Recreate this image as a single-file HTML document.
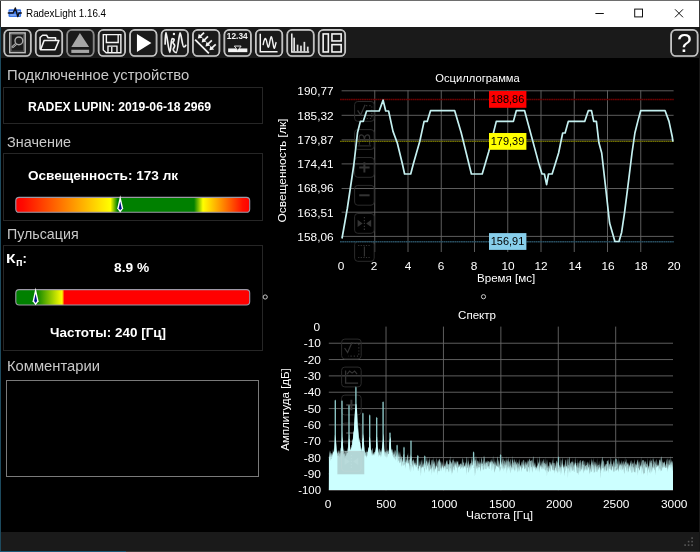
<!DOCTYPE html>
<html><head><meta charset="utf-8"><title>RadexLight 1.16.4</title>
<style>
html,body{margin:0;padding:0;background:#000;}
body{width:700px;height:552px;overflow:hidden;position:relative;font-family:"Liberation Sans", sans-serif;}
#win{position:absolute;left:0;top:0;width:700px;height:552px;background:#000;overflow:hidden;}
.abs{position:absolute;}
.t{position:absolute;white-space:nowrap;line-height:1;display:block;}
#txt{position:absolute;left:0;top:0;width:700px;height:552px;will-change:transform;}
.box{position:absolute;border:1px solid #262626;box-sizing:border-box;}
svg{position:absolute;left:0;top:0;}
</style></head>
<body>
<div id="win">
<div class="abs" style="left:0;top:0;width:700px;height:27.3px;background:#fff"></div>
<div class="abs" style="left:0;top:0;width:700px;height:1px;background:#6e6e6e"></div>
<div class="abs" style="left:0;top:27.3px;width:700px;height:31px;background:#1a1a1a"></div>
<div class="abs" style="left:1px;top:531.6px;width:699px;height:19.2px;background:#1a1a1a"></div>
<div class="abs" style="left:0;top:1px;width:1.3px;height:551px;background:#1d4a5e"></div>
<div class="abs" style="left:0;top:1px;width:1px;height:26.3px;background:#2c2c2c"></div>
<div class="abs" style="left:0;top:550.8px;width:126px;height:1.2px;background:#1c5a78"></div>
<div class="abs" style="left:126px;top:550.8px;width:574px;height:1.2px;background:#3c3c3c"></div>
<div class="abs" style="left:699px;top:27px;width:1px;height:524px;background:#161616"></div>
<div class="abs" style="left:699px;top:0;width:1px;height:27.3px;background:#3a3a3a"></div>
<div class="box" style="left:3px;top:86.6px;width:260px;height:37.8px"></div>
<div class="box" style="left:3px;top:153px;width:260px;height:67.8px"></div>
<div class="box" style="left:3px;top:245.4px;width:260px;height:105.8px"></div>
<div class="abs" style="left:6.2px;top:379.8px;width:253px;height:97.2px;border:1px solid #7a7a7a;box-sizing:border-box"></div>
<svg width="700" height="552" viewBox="0 0 700 552">
<rect x='8.5' y='9.3' width='12.6' height='7.6' rx='1.2' fill='#3a76e8'/>
<path d='M9.6,11.4 H13 M17.6,11.4 H20 M10.2,15 H16.6 M19,15 H20' stroke='#cfe0ff' stroke-width='0.8' fill='none'/>
<polyline points='7.8,13 13.2,13 15.3,7.9 17.8,16.6 19,13 21.8,13' fill='none' stroke='#101018' stroke-width='1.4' stroke-linejoin='round'/>
<line x1='595.4' x2='603.8' y1='13.5' y2='13.5' stroke='#111' stroke-width='1'/>
<rect x='634.7' y='9.1' width='7.8' height='7.8' fill='none' stroke='#111' stroke-width='1'/>
<path d='M675,9.3 L683,17.3 M683,9.3 L675,17.3' stroke='#111' stroke-width='1' fill='none'/>
<rect x='4.30' y='29.900000000000002' width='26.5' height='26.1' rx='4.8' fill='#1a1a1a' stroke='#e4e4e4' stroke-width='1.7'/><rect x='4.35' y='29.95' width='26.4' height='26.0' rx='4.7' fill='none' stroke='#8a8a8a' stroke-width='0.5'/>
<rect x='9.75' y='32.95' width='15.4' height='19.7' fill='none' stroke='#bcbcbc' stroke-width='1.5'/>
<rect x='11.35' y='34.55' width='12.2' height='16.5' fill='none' stroke='#606060' stroke-width='0.7'/>
<line x1='16.35' y1='43.65' x2='12.75' y2='46.95' stroke='#b0b0b0' stroke-width='2.5' stroke-linecap='round'/>
<line x1='16.35' y1='43.65' x2='12.75' y2='46.95' stroke='#3a3a3a' stroke-width='0.8' stroke-linecap='round'/>
<circle cx='18.90' cy='40.85' r='3.9' fill='#1e1e1e' stroke='#a8a8a8' stroke-width='1.4'/>
<rect x='35.74' y='29.900000000000002' width='26.5' height='26.1' rx='4.8' fill='#1a1a1a' stroke='#e4e4e4' stroke-width='1.7'/><rect x='35.79' y='29.95' width='26.4' height='26.0' rx='4.7' fill='none' stroke='#8a8a8a' stroke-width='0.5'/>
<path d='M40.09,49.45 L40.09,37.45 L42.59,35.25 L46.59,35.25 L48.09,37.75 L55.59,37.75 L55.59,40.05' fill='none' stroke='#f4f4f4' stroke-width='1.5' stroke-linejoin='round'/>
<path d='M40.59,49.75 L44.09,40.45 L58.89,40.45 L55.09,49.75 Z' fill='none' stroke='#f4f4f4' stroke-width='1.6' stroke-linejoin='round'/>
<rect x='67.18' y='29.900000000000002' width='26.5' height='26.1' rx='4.8' fill='#1a1a1a' stroke='#a2a2a2' stroke-width='1.7'/><rect x='67.23' y='29.95' width='26.4' height='26.0' rx='4.7' fill='none' stroke='#606060' stroke-width='0.5'/>
<path d='M79.93,32.95 L89.13,46.95 L71.33,46.95 Z' fill='#a6a6a6'/>
<rect x='71.33' y='49.75' width='17.8' height='3.2' fill='#a6a6a6'/>
<rect x='98.62' y='29.900000000000002' width='26.5' height='26.1' rx='4.8' fill='#1a1a1a' stroke='#e4e4e4' stroke-width='1.7'/><rect x='98.67' y='29.95' width='26.4' height='26.0' rx='4.7' fill='none' stroke='#8a8a8a' stroke-width='0.5'/>
<path d='M103.27,34.65 H120.87 V52.75 H106.17 L103.27,49.95 Z' fill='none' stroke='#f4f4f4' stroke-width='1.4'/>
<path d='M106.37,34.65 V42.45 H118.17 V34.65' fill='none' stroke='#f4f4f4' stroke-width='1.4'/>
<path d='M107.97,52.75 V46.15 H116.97 V52.75 M111.77,47.05 V52.05' fill='none' stroke='#f4f4f4' stroke-width='1.4'/>
<rect x='130.06' y='29.900000000000002' width='26.5' height='26.1' rx='4.8' fill='#1a1a1a' stroke='#e4e4e4' stroke-width='1.7'/><rect x='130.11' y='29.95' width='26.4' height='26.0' rx='4.7' fill='none' stroke='#8a8a8a' stroke-width='0.5'/>
<path d='M136.91,33.95 L151.41,42.95 L136.91,52.05 Z' fill='#ffffff'/>
<rect x='161.50' y='29.900000000000002' width='26.5' height='26.1' rx='4.8' fill='#1a1a1a' stroke='#e4e4e4' stroke-width='1.7'/><rect x='161.55' y='29.95' width='26.4' height='26.0' rx='4.7' fill='none' stroke='#8a8a8a' stroke-width='0.5'/>
<path d='M165.15 43.95 C165.25 38.05 165.45 32.55 165.95 32.55 C166.85 32.55 168.65 52.45 169.75 52.45 C170.65 52.45 171.25 38.55 171.95 38.55 C172.65 38.55 174.15 38.65 174.15 39.85 C174.15 41.25 172.95 41.45 172.95 42.45 C172.95 43.65 174.65 44.05 174.65 45.65 C174.65 47.65 173.05 48.25 173.25 49.65 C173.55 51.25 175.15 52.65 176.25 52.65 C177.65 52.65 179.05 32.85 180.05 32.85 C181.25 32.85 182.25 46.95 183.85 46.95 C184.85 46.95 185.45 46.05 185.75 45.35' fill='none' stroke='#f2f2f2' stroke-width='1.7' stroke-linecap='round' stroke-linejoin='round'/>
<circle cx='173.95' cy='33.95' r='1.2' fill='#f2f2f2'/>
<rect x='192.94' y='29.900000000000002' width='26.5' height='26.1' rx='4.8' fill='#1a1a1a' stroke='#e4e4e4' stroke-width='1.7'/><rect x='192.99' y='29.95' width='26.4' height='26.0' rx='4.7' fill='none' stroke='#8a8a8a' stroke-width='0.5'/>
<line x1='195.09' y1='39.65' x2='208.89' y2='53.45' stroke='#f4f4f4' stroke-width='1.8'/>
<line x1='204.09' y1='32.55' x2='200.09' y2='36.35' stroke='#f4f4f4' stroke-width='1.7'/>
<path d='M197.79,38.55 L198.79,33.85 L202.59,37.65 Z' fill='#f4f4f4'/>
<line x1='207.96' y1='36.48' x2='203.96' y2='40.28' stroke='#f4f4f4' stroke-width='1.7'/>
<path d='M201.66,42.48 L202.66,37.78 L206.46,41.58 Z' fill='#f4f4f4'/>
<line x1='211.83' y1='40.41' x2='207.83' y2='44.21' stroke='#f4f4f4' stroke-width='1.7'/>
<path d='M205.53,46.41 L206.53,41.71 L210.33,45.51 Z' fill='#f4f4f4'/>
<line x1='215.70' y1='44.34' x2='211.70' y2='48.14' stroke='#f4f4f4' stroke-width='1.7'/>
<path d='M209.40,50.34 L210.40,45.64 L214.20,49.44 Z' fill='#f4f4f4'/>
<rect x='224.38' y='29.900000000000002' width='26.5' height='26.1' rx='4.8' fill='#1a1a1a' stroke='#e4e4e4' stroke-width='1.7'/><rect x='224.43' y='29.95' width='26.4' height='26.0' rx='4.7' fill='none' stroke='#8a8a8a' stroke-width='0.5'/>
<rect x='228.13' y='48.45' width='19.2' height='3.7' fill='#f4f4f4'/>
<path d='M234.33,46.05 H241.13 L237.73,50.45 Z' fill='#1a1a1a' stroke='#f4f4f4' stroke-width='0.9'/>
<rect x='255.82' y='29.900000000000002' width='26.5' height='26.1' rx='4.8' fill='#1a1a1a' stroke='#e4e4e4' stroke-width='1.7'/><rect x='255.87' y='29.95' width='26.4' height='26.0' rx='4.7' fill='none' stroke='#8a8a8a' stroke-width='0.5'/>
<path d='M260.27,33.65 V51.85 H277.57' fill='none' stroke='#f4f4f4' stroke-width='1.5'/>
<path d='M263.17,44.65 C264.17,39.05 265.37,36.05 266.57,41.05 S268.17,51.05 269.57,43.05 S271.37,35.05 272.57,41.05 S273.97,51.05 275.17,46.05 S275.77,43.05 276.17,42.65' fill='none' stroke='#f4f4f4' stroke-width='1.4' stroke-linecap='round'/>
<rect x='287.26' y='29.900000000000002' width='26.5' height='26.1' rx='4.8' fill='#1a1a1a' stroke='#e4e4e4' stroke-width='1.7'/><rect x='287.31' y='29.95' width='26.4' height='26.0' rx='4.7' fill='none' stroke='#8a8a8a' stroke-width='0.5'/>
<path d='M291.81,33.45 V52.05 H309.21' fill='none' stroke='#f4f4f4' stroke-width='1.5'/>
<rect x='293.31' y='37.65' width='1.7' height='13.80' fill='#e0e0e0'/>
<rect x='296.71' y='44.65' width='1.7' height='6.80' fill='#e0e0e0'/>
<rect x='300.11' y='45.65' width='1.7' height='5.80' fill='#e0e0e0'/>
<rect x='303.51' y='41.85' width='1.7' height='9.60' fill='#e0e0e0'/>
<rect x='306.91' y='46.65' width='1.7' height='4.80' fill='#e0e0e0'/>
<rect x='318.70' y='29.900000000000002' width='26.5' height='26.1' rx='4.8' fill='#1a1a1a' stroke='#e4e4e4' stroke-width='1.7'/><rect x='318.75' y='29.95' width='26.4' height='26.0' rx='4.7' fill='none' stroke='#8a8a8a' stroke-width='0.5'/>
<rect x='323.15' y='33.95' width='5.2' height='18' fill='none' stroke='#f4f4f4' stroke-width='1.6'/>
<rect x='331.95' y='33.95' width='9.2' height='7' fill='none' stroke='#f4f4f4' stroke-width='1.6'/>
<rect x='331.95' y='44.65' width='9.2' height='7.3' fill='none' stroke='#f4f4f4' stroke-width='1.6'/>
<rect x='671.15' y='29.900000000000002' width='26.5' height='26.1' rx='4.8' fill='#1a1a1a' stroke='#e4e4e4' stroke-width='1.7'/><rect x='671.20' y='29.95' width='26.4' height='26.0' rx='4.7' fill='none' stroke='#8a8a8a' stroke-width='0.5'/>
<defs>
<linearGradient id='g1' x1='0' x2='1' y1='0' y2='0'>
<stop offset='0' stop-color='#ff0000'/><stop offset='0.03' stop-color='#ff0a00'/><stop offset='0.405' stop-color='#ffff00'/><stop offset='0.435' stop-color='#008000'/>
<stop offset='0.762' stop-color='#008000'/><stop offset='0.80' stop-color='#ffff00'/><stop offset='0.97' stop-color='#ff1000'/><stop offset='1' stop-color='#ff0000'/>
</linearGradient>
<linearGradient id='g2' x1='0' x2='1' y1='0' y2='0'>
<stop offset='0' stop-color='#008000'/><stop offset='0.085' stop-color='#008000'/><stop offset='0.198' stop-color='#ffff00'/><stop offset='0.208' stop-color='#ff0000'/><stop offset='1' stop-color='#ff0000'/>
</linearGradient></defs>
<rect x='15.8' y='197.4' width='233.9' height='14.9' rx='3.4' fill='url(#g1)' stroke='#9c98a6' stroke-width='1.1'/>
<rect x='15.8' y='289.6' width='233.9' height='15.4' rx='3.4' fill='url(#g2)' stroke='#9c98a6' stroke-width='1.1'/>
<path d='M120.2,195.2 L123.2,208.4 L120.2,212.4 L117.2,208.4 Z' fill='#ffffff'/><path d='M120.2,201.5 L121.7,208.20000000000002 L120.2,210.3 L118.7,208.20000000000002 Z' fill='#00108c'/>
<path d='M35.6,287.4 L38.6,301.2 L35.6,305.2 L32.6,301.2 Z' fill='#ffffff'/><path d='M35.6,293.7 L37.1,301.0 L35.6,303.09999999999997 L34.1,301.0 Z' fill='#00108c'/>
<circle cx='265.2' cy='297' r='2.1' fill='none' stroke='#c8c8c8' stroke-width='1'/>
<circle cx='483.5' cy='296.7' r='2.1' fill='none' stroke='#c8c8c8' stroke-width='1'/>
<g id="osc">
<line x1='341.6' x2='673.6' y1='90.80' y2='90.80' stroke='#686868' stroke-width='0.9'/>
<line x1='341.6' x2='673.6' y1='115.30' y2='115.30' stroke='#686868' stroke-width='0.9'/>
<line x1='341.6' x2='673.6' y1='139.90' y2='139.90' stroke='#686868' stroke-width='0.9'/>
<line x1='341.6' x2='673.6' y1='163.90' y2='163.90' stroke='#686868' stroke-width='0.9'/>
<line x1='341.6' x2='673.6' y1='188.50' y2='188.50' stroke='#686868' stroke-width='0.9'/>
<line x1='341.6' x2='673.6' y1='212.20' y2='212.20' stroke='#686868' stroke-width='0.9'/>
<line x1='341.6' x2='673.6' y1='236.40' y2='236.40' stroke='#686868' stroke-width='0.9'/>
<line x1='374.75' x2='374.75' y1='90.3' y2='252' stroke='#686868' stroke-width='0.9'/>
<line x1='408.00' x2='408.00' y1='90.3' y2='252' stroke='#686868' stroke-width='0.9'/>
<line x1='441.25' x2='441.25' y1='90.3' y2='252' stroke='#686868' stroke-width='0.9'/>
<line x1='474.50' x2='474.50' y1='90.3' y2='252' stroke='#686868' stroke-width='0.9'/>
<line x1='507.75' x2='507.75' y1='90.3' y2='252' stroke='#686868' stroke-width='0.9'/>
<line x1='541.00' x2='541.00' y1='90.3' y2='252' stroke='#686868' stroke-width='0.9'/>
<line x1='574.25' x2='574.25' y1='90.3' y2='252' stroke='#686868' stroke-width='0.9'/>
<line x1='607.50' x2='607.50' y1='90.3' y2='252' stroke='#686868' stroke-width='0.9'/>
<line x1='640.75' x2='640.75' y1='90.3' y2='252' stroke='#686868' stroke-width='0.9'/>
<rect x='354.6' y='101.5' width='19.6' height='19.8' rx='3.2' fill='none' stroke='#2a2a2a' stroke-width='1'/><polyline points='357.6,110.4 360.6,114.9 365.1,104.7' fill='none' stroke='#343434' stroke-width='1.2'/><path d='M366.1,105.7 H371.8 V118.5 H361.1' fill='none' stroke='#343434' stroke-width='1.2' stroke-dasharray='1.2 2'/>
<rect x='354.6' y='129.6' width='19.6' height='19.8' rx='3.2' fill='none' stroke='#2a2a2a' stroke-width='1'/><path d='M359.20000000000005,144.79999999999998 V137.6 Q359.20000000000005,134.79999999999998 361.3,134.79999999999998 Q364.40000000000003,134.79999999999998 364.40000000000003,140.6 Q364.40000000000003,134.79999999999998 367.5,134.79999999999998 Q369.6,134.79999999999998 369.6,137.6 V144.79999999999998' fill='none' stroke='#343434' stroke-width='1.2'/><line x1='357.6' x2='371.1' y1='145.9' y2='145.9' stroke='#343434' stroke-width='1'/>
<rect x='354.6' y='157.5' width='19.6' height='19.8' rx='3.2' fill='none' stroke='#2a2a2a' stroke-width='1'/><path d='M359.20000000000005,167.4 H369.6 M364.40000000000003,162.20000000000002 V172.6' stroke='#343434' stroke-width='2' fill='none'/>
<rect x='354.6' y='185.4' width='19.6' height='19.8' rx='3.2' fill='none' stroke='#2a2a2a' stroke-width='1'/><path d='M359.20000000000005,195.3 H369.6' stroke='#343434' stroke-width='2' fill='none'/>
<rect x='354.6' y='213.5' width='19.6' height='19.8' rx='3.2' fill='none' stroke='#2a2a2a' stroke-width='1'/><path d='M357.6,219.8 L362.6,223.4 L357.6,227.0 Z M371.20000000000005,219.8 L366.20000000000005,223.4 L371.20000000000005,227.0 Z' fill='#343434'/><line x1='364.40000000000003' x2='364.40000000000003' y1='217.0' y2='230.0' stroke='#343434' stroke-width='1.2' stroke-dasharray='1.3 1.6'/>
<rect x='354.6' y='241.5' width='19.6' height='19.8' rx='3.2' fill='none' stroke='#2a2a2a' stroke-width='1'/><path d='M358.1,245.5 H370.6 M358.1,257.5 H370.6' stroke='#343434' stroke-width='1' stroke-dasharray='1.2 1.4' fill='none'/><path d='M364.40000000000003,246.5 V256.5' stroke='#343434' stroke-width='1.1' fill='none'/>
<line x1='340' x2='673.8' y1='99.5' y2='99.5' stroke='#6a0000' stroke-width='1.4' stroke-dasharray='1.8 0.4'/>
<line x1='340' x2='673.8' y1='141.4' y2='141.4' stroke='#6c6c00' stroke-width='1.3' stroke-dasharray='1.8 0.4'/>
<line x1='340' x2='673.8' y1='241.8' y2='241.8' stroke='#284e60' stroke-width='1.6' stroke-dasharray='1.8 0.4'/>
<polyline points='342,238.5 347.3,208.5 353.8,165 357.5,132.8 360.4,121.3 363.3,121.3 366.6,111 379.2,111 383.1,100.1 385.7,111 388.6,111 393,131.4 397.3,143 402.4,164 404.6,174 410.7,174 413.3,164 419.8,141.2 424.1,121.4 427.2,121.4 430.5,110.7 454.7,110.7 461.2,132.7 471.4,174 482.2,174 488.8,151.5 496.3,121.4 513.4,121.4 516.3,110.7 524.6,110.7 539.1,164.6 542,174 544.4,174 546.6,184.6 548.5,174 552.1,174 558.6,153 562.7,133 565.1,133 568.3,121.4 584.7,121.4 588.3,110.7 591.5,110.7 593.7,121.4 596.4,121.4 598.9,142.8 601.7,153 605.7,188.2 609.6,223 614.9,241.5 619,241.5 621.6,232.4 624.5,212.8 628,185.3 632,153 634.9,133 637.8,121.4 640.7,110.7 665.1,110.7 669,121.4 672.3,137 672.9,141.7' fill='none' stroke='#c4f0f0' stroke-width='1.7' stroke-linejoin='round'/>
<rect x='489' y='91' width='37.4' height='16.8' fill='#ff0000'/>
<rect x='489' y='133' width='37.4' height='16.8' fill='#ffff00'/>
<rect x='489' y='233.1' width='37.4' height='16.8' fill='#87ceeb'/>
</g>
<g id="spec">
<line x1='328.8' x2='673' y1='343.23' y2='343.23' stroke='#686868' stroke-width='0.9'/>
<line x1='328.8' x2='673' y1='359.56' y2='359.56' stroke='#686868' stroke-width='0.9'/>
<line x1='328.8' x2='673' y1='375.89' y2='375.89' stroke='#686868' stroke-width='0.9'/>
<line x1='328.8' x2='673' y1='392.22' y2='392.22' stroke='#686868' stroke-width='0.9'/>
<line x1='328.8' x2='673' y1='408.55' y2='408.55' stroke='#686868' stroke-width='0.9'/>
<line x1='328.8' x2='673' y1='424.88' y2='424.88' stroke='#686868' stroke-width='0.9'/>
<line x1='328.8' x2='673' y1='441.21' y2='441.21' stroke='#686868' stroke-width='0.9'/>
<line x1='328.8' x2='673' y1='457.54' y2='457.54' stroke='#686868' stroke-width='0.9'/>
<line x1='328.8' x2='673' y1='473.87' y2='473.87' stroke='#686868' stroke-width='0.9'/>
<line x1='328.8' x2='673' y1='490.20' y2='490.20' stroke='#686868' stroke-width='0.9'/>
<line x1='386.02' x2='386.02' y1='326.6' y2='490.5' stroke='#686868' stroke-width='0.9'/>
<line x1='443.44' x2='443.44' y1='326.6' y2='490.5' stroke='#686868' stroke-width='0.9'/>
<line x1='500.86' x2='500.86' y1='326.6' y2='490.5' stroke='#686868' stroke-width='0.9'/>
<line x1='558.28' x2='558.28' y1='326.6' y2='490.5' stroke='#686868' stroke-width='0.9'/>
<line x1='615.70' x2='615.70' y1='326.6' y2='490.5' stroke='#686868' stroke-width='0.9'/>
<rect x='341.6' y='339.1' width='19.6' height='19.8' rx='3.2' fill='none' stroke='#2a2a2a' stroke-width='1'/><polyline points='344.6,348.0 347.6,352.5 352.1,342.3' fill='none' stroke='#343434' stroke-width='1.2'/><path d='M353.1,343.3 H358.8 V356.1 H348.1' fill='none' stroke='#343434' stroke-width='1.2' stroke-dasharray='1.2 2'/>
<rect x='341.6' y='367.1' width='19.6' height='19.8' rx='3.2' fill='none' stroke='#2a2a2a' stroke-width='1'/><polyline points='345.6,370.6 345.6,383.1 358.1,383.1' fill='none' stroke='#343434' stroke-width='1.3'/><path d='M347.1,374.1 l2.5,-3 l2.5,2 l2.5,-2 l2.5,3' fill='none' stroke='#343434' stroke-width='1.1'/>
<rect x='341.6' y='395.1' width='19.6' height='19.8' rx='3.2' fill='none' stroke='#2a2a2a' stroke-width='1'/><path d='M346.20000000000005,405.0 H356.6 M351.40000000000003,399.8 V410.2' stroke='#343434' stroke-width='2' fill='none'/>
<rect x='341.6' y='423.1' width='19.6' height='19.8' rx='3.2' fill='none' stroke='#2a2a2a' stroke-width='1'/><path d='M346.20000000000005,433.0 H356.6' stroke='#343434' stroke-width='2' fill='none'/>
<path d='M334.62,459.00 L334.62,400.80 L335.30,399.40 L335.98,400.80 L335.98,459.00 Z' fill='#8ec8c8'/>
<path d='M341.32,458.69 L341.32,401.50 L342.00,400.10 L342.68,401.50 L342.68,458.69 Z' fill='#8ec8c8'/>
<path d='M348.32,458.21 L348.32,406.10 L349.00,404.70 L349.68,406.10 L349.68,458.21 Z' fill='#8ec8c8'/>
<path d='M355.22,458.47 L355.22,387.70 L355.90,386.30 L356.58,387.70 L356.58,458.47 Z' fill='#8ec8c8'/>
<path d='M362.22,458.97 L362.22,413.80 L362.90,412.40 L363.58,413.80 L363.58,458.97 Z' fill='#8ec8c8'/>
<path d='M369.02,458.78 L369.02,415.70 L369.70,414.30 L370.38,415.70 L370.38,458.78 Z' fill='#8ec8c8'/>
<path d='M376.02,458.25 L376.02,418.20 L376.70,416.80 L377.38,418.20 L377.38,458.25 Z' fill='#8ec8c8'/>
<path d='M382.42,458.34 L382.42,402.60 L383.10,401.20 L383.78,402.60 L383.78,458.34 Z' fill='#8ec8c8'/>
<path d='M389.32,459.64 L389.32,433.50 L390.00,432.10 L390.68,433.50 L390.68,459.64 Z' fill='#8ec8c8'/>
<path d='M396.42,461.49 L396.42,445.80 L397.10,444.40 L397.78,445.80 L397.78,461.49 Z' fill='#8ec8c8'/>
<path d='M403.32,463.30 L403.32,448.00 L404.00,446.60 L404.68,448.00 L404.68,463.30 Z' fill='#8ec8c8'/>
<path d='M410.32,465.13 L410.32,441.50 L411.00,440.10 L411.68,441.50 L411.68,465.13 Z' fill='#8ec8c8'/>
<path d='M472.92,466.92 L472.92,452.70 L473.60,451.30 L474.28,452.70 L474.28,466.92 Z' fill='#8ec8c8'/>
<path d='M499.92,466.84 L499.92,455.50 L500.60,454.10 L501.28,455.50 L501.28,466.84 Z' fill='#8ec8c8'/>
<path d='M417.12,466.90 L417.12,456.20 L417.80,454.80 L418.48,456.20 L418.48,466.90 Z' fill='#8ec8c8'/>
<path d='M424.12,468.14 L424.12,456.70 L424.80,455.30 L425.48,456.70 L425.48,468.14 Z' fill='#8ec8c8'/>
<path d='M557.82,468.18 L557.82,457.70 L558.50,456.30 L559.18,457.70 L559.18,468.18 Z' fill='#8ec8c8'/>
<path d='M615.32,468.34 L615.32,459.70 L616.00,458.30 L616.68,459.70 L616.68,468.34 Z' fill='#8ec8c8'/>
<path d='M328.9,489.9 L328.90,456.40 L329.40,458.44 L329.90,456.19 L330.40,461.17 L330.90,455.43 L331.40,458.77 L331.90,459.25 L332.40,455.73 L332.90,454.76 L333.40,451.67 L333.90,451.65 L334.40,450.69 L334.90,434.66 L335.40,438.22 L335.90,441.90 L336.40,450.68 L336.90,452.57 L337.40,455.52 L337.90,456.16 L338.40,455.54 L338.90,455.32 L339.40,457.68 L339.90,452.99 L340.40,456.82 L340.90,451.41 L341.40,441.39 L341.90,440.75 L342.40,439.00 L342.90,447.64 L343.40,454.33 L343.90,454.56 L344.40,453.45 L344.90,458.78 L345.40,455.68 L345.90,456.01 L346.40,454.52 L346.90,452.50 L347.40,452.86 L347.90,452.99 L348.40,449.09 L348.90,438.42 L349.40,440.19 L349.90,445.15 L350.40,450.50 L350.90,449.62 L351.40,446.21 L351.90,448.42 L352.40,441.11 L352.90,439.39 L353.40,433.30 L353.90,430.39 L354.40,419.43 L354.90,411.01 L355.40,407.43 L355.90,408.90 L356.40,407.79 L356.90,409.21 L357.40,427.49 L357.90,429.70 L358.40,436.54 L358.90,441.87 L359.40,442.35 L359.90,441.17 L360.40,447.59 L360.90,449.75 L361.40,446.90 L361.90,452.27 L362.40,437.34 L362.90,440.26 L363.40,434.15 L363.90,450.59 L364.40,451.00 L364.90,456.85 L365.40,455.85 L365.90,454.84 L366.40,458.13 L366.90,456.30 L367.40,455.61 L367.90,452.14 L368.40,446.74 L368.90,448.23 L369.40,437.55 L369.90,436.63 L370.40,448.81 L370.90,449.95 L371.40,450.13 L371.90,455.96 L372.40,455.14 L372.90,453.60 L373.40,454.76 L373.90,455.42 L374.40,453.11 L374.90,455.94 L375.40,451.41 L375.90,448.43 L376.40,439.15 L376.90,439.85 L377.40,447.25 L377.90,450.51 L378.40,455.12 L378.90,456.95 L379.40,454.43 L379.90,455.48 L380.40,454.94 L380.90,457.55 L381.40,455.36 L381.90,450.64 L382.40,445.05 L382.90,440.28 L383.40,438.88 L383.90,447.49 L384.40,453.42 L384.90,456.29 L385.40,457.01 L385.90,453.84 L386.40,456.31 L386.90,458.48 L387.40,456.10 L387.90,453.80 L388.40,454.25 L388.90,453.42 L389.40,443.90 L389.90,439.08 L390.40,438.75 L390.90,448.59 L391.40,453.34 L391.90,451.08 L392.40,455.23 L392.90,456.23 L393.40,457.04 L393.90,458.37 L394.40,458.59 L394.90,458.02 L395.40,458.73 L395.90,460.79 L396.40,454.78 L396.90,459.85 L397.40,462.47 L397.90,458.27 L398.40,461.58 L398.90,460.21 L399.40,462.93 L399.90,463.15 L400.40,461.92 L400.90,458.54 L401.40,465.11 L401.90,466.75 L402.40,463.89 L402.90,461.36 L403.40,464.91 L403.90,466.05 L404.40,464.11 L404.90,464.69 L405.40,468.81 L405.90,461.86 L406.40,463.56 L406.90,459.92 L407.40,463.43 L407.90,463.45 L408.40,462.96 L408.90,463.83 L409.40,470.94 L409.90,465.49 L410.40,465.85 L410.90,472.45 L411.40,466.26 L411.90,461.71 L412.40,467.82 L412.90,464.20 L413.40,471.54 L413.90,463.59 L414.40,465.59 L414.90,462.85 L415.40,467.75 L415.90,464.76 L416.40,467.55 L416.90,466.81 L417.40,466.28 L417.90,470.77 L418.40,470.88 L418.90,468.56 L419.40,466.00 L419.90,465.65 L420.40,469.54 L420.90,476.14 L421.40,468.15 L421.90,467.22 L422.40,467.45 L422.90,466.33 L423.40,466.66 L423.90,468.79 L424.40,473.37 L424.90,469.34 L425.40,467.90 L425.90,464.79 L426.40,469.90 L426.90,469.21 L427.40,465.84 L427.90,466.21 L428.40,469.12 L428.90,472.06 L429.40,470.97 L429.90,469.78 L430.40,468.28 L430.90,470.07 L431.40,469.12 L431.90,475.23 L432.40,465.96 L432.90,468.08 L433.40,472.65 L433.90,468.34 L434.40,473.06 L434.90,468.93 L435.40,469.45 L435.90,467.99 L436.40,465.15 L436.90,466.28 L437.40,475.19 L437.90,470.78 L438.40,470.65 L438.90,471.61 L439.40,470.52 L439.90,471.77 L440.40,468.15 L440.90,468.26 L441.40,471.62 L441.90,467.87 L442.40,465.11 L442.90,468.19 L443.40,467.29 L443.90,470.51 L444.40,466.77 L444.90,465.80 L445.40,467.82 L445.90,473.09 L446.40,468.59 L446.90,469.16 L447.40,468.72 L447.90,469.51 L448.40,471.27 L448.90,472.57 L449.40,464.04 L449.90,472.44 L450.40,468.61 L450.90,467.70 L451.40,475.31 L451.90,468.10 L452.40,474.01 L452.90,471.26 L453.40,465.65 L453.90,469.89 L454.40,470.58 L454.90,468.15 L455.40,461.97 L455.90,467.51 L456.40,467.93 L456.90,465.35 L457.40,473.55 L457.90,467.74 L458.40,467.31 L458.90,467.56 L459.40,466.20 L459.90,466.21 L460.40,468.63 L460.90,469.23 L461.40,466.93 L461.90,468.08 L462.40,464.43 L462.90,469.77 L463.40,466.20 L463.90,468.89 L464.40,465.74 L464.90,466.83 L465.40,468.86 L465.90,464.86 L466.40,475.16 L466.90,468.13 L467.40,468.02 L467.90,466.16 L468.40,472.67 L468.90,472.08 L469.40,469.03 L469.90,464.35 L470.40,466.76 L470.90,469.89 L471.40,466.72 L471.90,464.83 L472.40,464.82 L472.90,465.97 L473.40,468.17 L473.90,466.30 L474.40,468.16 L474.90,475.92 L475.40,473.06 L475.90,465.19 L476.40,469.05 L476.90,468.33 L477.40,467.69 L477.90,470.99 L478.40,467.14 L478.90,467.15 L479.40,467.01 L479.90,467.77 L480.40,471.65 L480.90,470.22 L481.40,464.28 L481.90,466.80 L482.40,465.80 L482.90,470.31 L483.40,468.65 L483.90,470.51 L484.40,467.84 L484.90,462.67 L485.40,469.28 L485.90,468.65 L486.40,469.43 L486.90,464.36 L487.40,468.23 L487.90,466.08 L488.40,466.08 L488.90,468.99 L489.40,468.99 L489.90,465.50 L490.40,463.21 L490.90,461.07 L491.40,466.39 L491.90,471.14 L492.40,467.85 L492.90,461.70 L493.40,465.59 L493.90,469.18 L494.40,472.69 L494.90,471.28 L495.40,469.04 L495.90,468.56 L496.40,465.05 L496.90,466.75 L497.40,467.08 L497.90,465.85 L498.40,468.20 L498.90,466.93 L499.40,468.97 L499.90,472.05 L500.40,470.11 L500.90,469.21 L501.40,467.37 L501.90,463.79 L502.40,467.74 L502.90,469.58 L503.40,465.24 L503.90,471.58 L504.40,467.14 L504.90,469.12 L505.40,467.17 L505.90,464.58 L506.40,473.89 L506.90,464.85 L507.40,470.68 L507.90,466.56 L508.40,468.91 L508.90,465.88 L509.40,466.97 L509.90,470.72 L510.40,473.60 L510.90,465.79 L511.40,468.20 L511.90,470.83 L512.40,466.42 L512.90,470.19 L513.40,466.01 L513.90,469.90 L514.40,469.45 L514.90,471.63 L515.40,469.26 L515.90,464.91 L516.40,470.12 L516.90,465.19 L517.40,470.38 L517.90,472.52 L518.40,469.97 L518.90,466.76 L519.40,471.66 L519.90,468.80 L520.40,464.86 L520.90,467.36 L521.40,472.34 L521.90,467.53 L522.40,468.73 L522.90,467.44 L523.40,463.69 L523.90,466.99 L524.40,469.43 L524.90,469.03 L525.40,467.97 L525.90,462.50 L526.40,471.91 L526.90,470.51 L527.40,471.38 L527.90,472.16 L528.40,467.29 L528.90,466.86 L529.40,469.44 L529.90,473.26 L530.40,463.87 L530.90,467.96 L531.40,466.61 L531.90,470.19 L532.40,472.74 L532.90,467.83 L533.40,465.19 L533.90,468.82 L534.40,467.90 L534.90,464.39 L535.40,471.20 L535.90,467.27 L536.40,470.66 L536.90,465.08 L537.40,471.85 L537.90,464.76 L538.40,471.76 L538.90,463.75 L539.40,472.70 L539.90,467.80 L540.40,464.51 L540.90,468.22 L541.40,469.84 L541.90,466.13 L542.40,467.54 L542.90,469.69 L543.40,468.48 L543.90,460.38 L544.40,467.78 L544.90,470.19 L545.40,469.84 L545.90,471.85 L546.40,467.11 L546.90,476.20 L547.40,471.31 L547.90,469.96 L548.40,472.13 L548.90,471.78 L549.40,469.41 L549.90,467.40 L550.40,472.02 L550.90,470.35 L551.40,463.88 L551.90,466.11 L552.40,470.52 L552.90,469.53 L553.40,470.02 L553.90,471.05 L554.40,469.68 L554.90,473.71 L555.40,467.64 L555.90,468.19 L556.40,470.23 L556.90,471.42 L557.40,471.56 L557.90,473.53 L558.40,468.04 L558.90,472.66 L559.40,470.71 L559.90,466.50 L560.40,469.05 L560.90,475.28 L561.40,471.66 L561.90,468.15 L562.40,462.77 L562.90,467.44 L563.40,467.54 L563.90,469.74 L564.40,476.00 L564.90,471.63 L565.40,470.43 L565.90,466.95 L566.40,466.26 L566.90,469.01 L567.40,468.29 L567.90,478.02 L568.40,468.49 L568.90,467.91 L569.40,472.81 L569.90,469.88 L570.40,466.21 L570.90,473.29 L571.40,468.82 L571.90,465.98 L572.40,470.61 L572.90,471.09 L573.40,468.79 L573.90,471.70 L574.40,472.05 L574.90,467.29 L575.40,464.01 L575.90,463.08 L576.40,469.43 L576.90,473.24 L577.40,472.61 L577.90,473.71 L578.40,475.02 L578.90,469.88 L579.40,472.80 L579.90,465.57 L580.40,471.78 L580.90,470.96 L581.40,469.61 L581.90,468.64 L582.40,466.76 L582.90,470.28 L583.40,473.47 L583.90,468.88 L584.40,471.40 L584.90,468.05 L585.40,470.63 L585.90,467.11 L586.40,470.99 L586.90,469.33 L587.40,470.83 L587.90,468.25 L588.40,466.66 L588.90,469.04 L589.40,472.86 L589.90,474.39 L590.40,469.06 L590.90,472.21 L591.40,472.10 L591.90,471.08 L592.40,465.64 L592.90,470.89 L593.40,467.27 L593.90,473.28 L594.40,472.20 L594.90,471.72 L595.40,462.89 L595.90,471.74 L596.40,471.96 L596.90,466.42 L597.40,472.71 L597.90,470.21 L598.40,469.49 L598.90,468.00 L599.40,467.15 L599.90,468.78 L600.40,478.40 L600.90,470.57 L601.40,470.58 L601.90,468.18 L602.40,468.27 L602.90,468.45 L603.40,467.51 L603.90,472.44 L604.40,469.04 L604.90,472.21 L605.40,466.54 L605.90,472.36 L606.40,469.68 L606.90,471.61 L607.40,469.44 L607.90,467.23 L608.40,473.10 L608.90,468.48 L609.40,469.28 L609.90,467.20 L610.40,470.24 L610.90,468.56 L611.40,470.43 L611.90,470.60 L612.40,467.69 L612.90,465.66 L613.40,470.81 L613.90,472.16 L614.40,471.53 L614.90,466.36 L615.40,471.25 L615.90,470.62 L616.40,470.33 L616.90,470.73 L617.40,468.61 L617.90,470.10 L618.40,472.09 L618.90,468.07 L619.40,465.44 L619.90,469.17 L620.40,470.00 L620.90,464.27 L621.40,467.53 L621.90,471.07 L622.40,468.98 L622.90,469.65 L623.40,465.86 L623.90,471.91 L624.40,474.27 L624.90,468.79 L625.40,467.29 L625.90,466.09 L626.40,471.81 L626.90,469.60 L627.40,467.07 L627.90,472.68 L628.40,471.41 L628.90,470.95 L629.40,464.32 L629.90,468.95 L630.40,470.98 L630.90,465.79 L631.40,471.81 L631.90,473.20 L632.40,472.08 L632.90,467.15 L633.40,467.18 L633.90,471.79 L634.40,471.93 L634.90,472.57 L635.40,472.48 L635.90,468.83 L636.40,467.95 L636.90,463.89 L637.40,471.27 L637.90,475.44 L638.40,467.76 L638.90,467.71 L639.40,470.85 L639.90,470.07 L640.40,465.17 L640.90,467.00 L641.40,465.92 L641.90,474.64 L642.40,466.96 L642.90,471.35 L643.40,474.32 L643.90,474.24 L644.40,472.92 L644.90,473.48 L645.40,465.44 L645.90,467.92 L646.40,466.84 L646.90,468.06 L647.40,476.20 L647.90,464.15 L648.40,470.40 L648.90,465.37 L649.40,472.56 L649.90,472.45 L650.40,467.36 L650.90,474.58 L651.40,468.98 L651.90,472.41 L652.40,469.62 L652.90,467.17 L653.40,467.66 L653.90,468.39 L654.40,470.44 L654.90,469.05 L655.40,475.29 L655.90,468.13 L656.40,467.36 L656.90,466.64 L657.40,466.47 L657.90,464.60 L658.40,465.86 L658.90,471.15 L659.40,468.77 L659.90,468.11 L660.40,469.56 L660.90,471.56 L661.40,470.28 L661.90,470.71 L662.40,466.97 L662.90,467.79 L663.40,466.34 L663.90,468.23 L664.40,466.20 L664.90,467.44 L665.40,467.98 L665.90,467.85 L666.40,467.70 L666.90,467.06 L667.40,472.09 L667.90,467.46 L668.40,465.57 L668.90,468.93 L669.40,465.33 L669.90,465.37 L670.40,468.60 L670.90,463.68 L671.40,459.32 L671.90,469.13 L672.40,471.21 L672.90,463.63 L673.0,489.9 Z' fill='#ccffff' stroke='none'/>
<path d='M328.9,489.9 L329.07,456.04 L329.57,455.31 L330.07,450.77 L330.57,452.18 L331.07,455.66 L331.57,454.99 L332.07,455.78 L332.57,452.65 L333.07,448.16 L333.57,453.31 L334.07,449.28 L334.57,447.33 L335.07,434.24 L335.57,438.01 L336.07,440.15 L336.57,448.25 L337.07,452.34 L337.57,453.92 L338.07,450.69 L338.57,452.56 L339.07,452.46 L339.57,454.19 L340.07,448.43 L340.57,447.32 L341.07,451.48 L341.57,439.89 L342.07,430.79 L342.57,439.26 L343.07,446.29 L343.57,451.17 L344.07,448.85 L344.57,453.81 L345.07,451.44 L345.57,451.33 L346.07,450.14 L346.57,451.94 L347.07,450.48 L347.57,446.91 L348.07,450.18 L348.57,439.62 L349.07,434.79 L349.57,434.38 L350.07,448.67 L350.57,450.15 L351.07,445.37 L351.57,444.42 L352.07,445.77 L352.57,441.26 L353.07,436.37 L353.57,431.76 L354.07,430.36 L354.57,418.75 L355.07,410.93 L355.57,404.47 L356.07,403.77 L356.57,405.78 L357.07,412.99 L357.57,424.05 L358.07,425.89 L358.57,434.41 L359.07,440.39 L359.57,439.97 L360.07,445.73 L360.57,446.49 L361.07,449.21 L361.57,450.43 L362.07,449.46 L362.57,435.60 L363.07,432.89 L363.57,436.53 L364.07,444.50 L364.57,447.72 L365.07,452.36 L365.57,452.79 L366.07,449.84 L366.57,452.11 L367.07,452.12 L367.57,452.07 L368.07,449.33 L368.57,450.82 L369.07,447.07 L369.57,436.70 L370.07,438.18 L370.57,443.55 L371.07,450.98 L371.57,454.96 L372.07,448.81 L372.57,447.94 L373.07,452.59 L373.57,454.25 L374.07,451.94 L374.57,451.74 L375.07,452.83 L375.57,451.28 L376.07,449.56 L376.57,432.89 L377.07,437.95 L377.57,445.51 L378.07,449.31 L378.57,453.46 L379.07,449.11 L379.57,448.44 L380.07,450.55 L380.57,452.33 L381.07,452.05 L381.57,449.06 L382.07,447.29 L382.57,443.42 L383.07,436.77 L383.57,433.15 L384.07,443.42 L384.57,451.32 L385.07,452.40 L385.57,452.20 L386.07,451.18 L386.57,451.31 L387.07,447.83 L387.57,452.51 L388.07,449.63 L388.57,451.64 L389.07,448.20 L389.57,440.94 L390.07,437.40 L390.57,437.43 L391.07,447.63 L391.57,450.72 L392.07,450.09 L392.57,448.80 L393.07,454.08 L393.57,455.19 L394.07,454.66 L394.57,449.29 L395.07,452.84 L395.57,449.82 L396.07,451.53 L396.57,453.59 L397.07,455.68 L397.57,459.23 L398.07,456.62 L398.57,453.72 L399.07,458.24 L399.57,453.75 L400.07,451.29 L400.57,457.46 L401.07,459.75 L401.57,455.91 L402.07,456.41 L402.57,462.26 L403.07,458.03 L403.57,460.69 L404.07,456.80 L404.57,463.24 L405.07,461.90 L405.57,458.04 L406.07,456.46 L406.57,468.48 L407.07,454.92 L407.57,455.47 L408.07,452.82 L408.57,461.99 L409.07,459.75 L409.57,459.33 L410.07,454.00 L410.57,459.98 L411.07,457.06 L411.57,455.76 L412.07,459.40 L412.57,461.62 L413.07,460.02 L413.57,458.81 L414.07,463.62 L414.57,461.90 L415.07,459.72 L415.57,463.42 L416.07,462.52 L416.57,464.97 L417.07,464.77 L417.57,464.56 L418.07,459.67 L418.57,467.01 L419.07,465.95 L419.57,460.27 L420.07,467.14 L420.57,462.92 L421.07,459.45 L421.57,463.08 L422.07,458.37 L422.57,467.45 L423.07,458.42 L423.57,468.70 L424.07,459.91 L424.57,462.65 L425.07,467.95 L425.57,464.45 L426.07,456.92 L426.57,462.60 L427.07,456.58 L427.57,465.61 L428.07,459.22 L428.57,462.72 L429.07,462.55 L429.57,457.35 L430.07,464.26 L430.57,469.70 L431.07,459.56 L431.57,460.81 L432.07,464.36 L432.57,467.51 L433.07,459.65 L433.57,463.68 L434.07,464.27 L434.57,466.86 L435.07,459.80 L435.57,472.14 L436.07,470.54 L436.57,457.74 L437.07,459.86 L437.57,464.20 L438.07,460.43 L438.57,460.84 L439.07,462.81 L439.57,460.04 L440.07,460.48 L440.57,463.57 L441.07,461.26 L441.57,464.10 L442.07,466.67 L442.57,466.92 L443.07,463.06 L443.57,470.42 L444.07,461.22 L444.57,466.04 L445.07,469.46 L445.57,463.39 L446.07,465.72 L446.57,460.87 L447.07,460.50 L447.57,463.38 L448.07,464.42 L448.57,463.97 L449.07,465.08 L449.57,463.79 L450.07,462.24 L450.57,460.27 L451.07,462.15 L451.57,462.73 L452.07,462.49 L452.57,458.47 L453.07,467.24 L453.57,466.60 L454.07,463.36 L454.57,460.70 L455.07,466.58 L455.57,461.62 L456.07,461.55 L456.57,464.67 L457.07,460.40 L457.57,462.92 L458.07,460.62 L458.57,464.69 L459.07,463.99 L459.57,465.07 L460.07,464.02 L460.57,463.60 L461.07,463.80 L461.57,465.33 L462.07,458.80 L462.57,458.00 L463.07,462.61 L463.57,462.94 L464.07,461.41 L464.57,467.88 L465.07,464.05 L465.57,466.97 L466.07,462.65 L466.57,457.21 L467.07,457.21 L467.57,466.28 L468.07,462.43 L468.57,460.48 L469.07,467.02 L469.57,468.62 L470.07,463.69 L470.57,466.99 L471.07,461.09 L471.57,458.73 L472.07,456.11 L472.57,466.25 L473.07,456.49 L473.57,460.70 L474.07,462.45 L474.57,464.33 L475.07,455.41 L475.57,461.30 L476.07,459.15 L476.57,467.53 L477.07,461.45 L477.57,459.73 L478.07,468.44 L478.57,462.72 L479.07,465.04 L479.57,463.32 L480.07,461.53 L480.57,464.86 L481.07,459.45 L481.57,457.00 L482.07,459.69 L482.57,464.42 L483.07,460.69 L483.57,466.02 L484.07,464.73 L484.57,462.86 L485.07,466.15 L485.57,463.48 L486.07,463.26 L486.57,461.08 L487.07,461.70 L487.57,461.81 L488.07,465.95 L488.57,467.89 L489.07,466.07 L489.57,462.99 L490.07,461.64 L490.57,463.03 L491.07,459.99 L491.57,462.03 L492.07,460.87 L492.57,461.95 L493.07,455.30 L493.57,462.07 L494.07,464.48 L494.57,458.15 L495.07,468.55 L495.57,462.63 L496.07,460.03 L496.57,467.29 L497.07,458.61 L497.57,472.05 L498.07,459.51 L498.57,465.56 L499.07,467.37 L499.57,464.68 L500.07,462.61 L500.57,459.54 L501.07,461.61 L501.57,462.95 L502.07,465.76 L502.57,455.35 L503.07,464.40 L503.57,458.04 L504.07,459.90 L504.57,461.80 L505.07,459.87 L505.57,464.41 L506.07,456.20 L506.57,463.93 L507.07,458.48 L507.57,460.86 L508.07,461.93 L508.57,457.05 L509.07,463.74 L509.57,470.03 L510.07,459.84 L510.57,458.96 L511.07,467.77 L511.57,468.36 L512.07,455.48 L512.57,460.95 L513.07,459.32 L513.57,462.89 L514.07,461.92 L514.57,458.59 L515.07,460.70 L515.57,466.36 L516.07,458.89 L516.57,463.16 L517.07,464.65 L517.57,468.67 L518.07,463.92 L518.57,463.26 L519.07,458.92 L519.57,463.32 L520.07,467.32 L520.57,464.10 L521.07,466.93 L521.57,460.72 L522.07,465.35 L522.57,461.55 L523.07,459.92 L523.57,460.21 L524.07,466.89 L524.57,464.66 L525.07,461.87 L525.57,461.61 L526.07,465.51 L526.57,460.94 L527.07,466.73 L527.57,463.74 L528.07,460.55 L528.57,461.95 L529.07,458.78 L529.57,458.72 L530.07,460.81 L530.57,460.88 L531.07,461.36 L531.57,459.94 L532.07,460.26 L532.57,463.93 L533.07,457.86 L533.57,455.97 L534.07,469.01 L534.57,463.17 L535.07,463.48 L535.57,467.08 L536.07,467.00 L536.57,468.14 L537.07,466.35 L537.57,465.69 L538.07,464.67 L538.57,462.45 L539.07,462.48 L539.57,456.14 L540.07,469.00 L540.57,462.54 L541.07,459.34 L541.57,467.23 L542.07,460.42 L542.57,464.43 L543.07,459.90 L543.57,458.81 L544.07,467.16 L544.57,463.58 L545.07,457.37 L545.57,465.54 L546.07,466.44 L546.57,462.09 L547.07,465.76 L547.57,467.97 L548.07,467.49 L548.57,465.53 L549.07,466.07 L549.57,469.22 L550.07,464.04 L550.57,462.27 L551.07,462.28 L551.57,474.78 L552.07,459.59 L552.57,463.41 L553.07,456.55 L553.57,463.21 L554.07,462.69 L554.57,463.06 L555.07,466.25 L555.57,468.87 L556.07,464.24 L556.57,460.50 L557.07,461.58 L557.57,463.52 L558.07,460.79 L558.57,463.22 L559.07,465.43 L559.57,464.29 L560.07,471.00 L560.57,457.43 L561.07,464.03 L561.57,467.45 L562.07,459.51 L562.57,457.29 L563.07,471.30 L563.57,467.14 L564.07,465.61 L564.57,468.05 L565.07,459.94 L565.57,459.44 L566.07,469.43 L566.57,464.08 L567.07,457.71 L567.57,463.21 L568.07,469.52 L568.57,459.77 L569.07,457.80 L569.57,456.95 L570.07,463.15 L570.57,463.38 L571.07,461.32 L571.57,461.68 L572.07,462.71 L572.57,461.42 L573.07,461.65 L573.57,467.41 L574.07,463.90 L574.57,465.74 L575.07,457.06 L575.57,460.42 L576.07,467.60 L576.57,464.39 L577.07,467.66 L577.57,458.45 L578.07,466.25 L578.57,461.78 L579.07,463.92 L579.57,461.32 L580.07,460.36 L580.57,459.98 L581.07,463.41 L581.57,467.78 L582.07,459.96 L582.57,461.72 L583.07,460.28 L583.57,460.83 L584.07,466.42 L584.57,462.35 L585.07,460.44 L585.57,466.55 L586.07,465.26 L586.57,465.27 L587.07,464.53 L587.57,461.80 L588.07,467.01 L588.57,461.70 L589.07,464.84 L589.57,464.60 L590.07,468.28 L590.57,463.42 L591.07,467.03 L591.57,457.73 L592.07,464.52 L592.57,464.76 L593.07,464.42 L593.57,457.29 L594.07,466.78 L594.57,461.74 L595.07,461.52 L595.57,469.84 L596.07,463.22 L596.57,467.53 L597.07,457.70 L597.57,466.63 L598.07,464.80 L598.57,465.16 L599.07,460.54 L599.57,465.38 L600.07,463.34 L600.57,469.09 L601.07,462.19 L601.57,458.13 L602.07,467.97 L602.57,460.08 L603.07,463.26 L603.57,466.86 L604.07,470.28 L604.57,465.94 L605.07,466.54 L605.57,464.55 L606.07,464.32 L606.57,463.62 L607.07,465.04 L607.57,460.49 L608.07,464.59 L608.57,468.12 L609.07,464.38 L609.57,463.26 L610.07,466.56 L610.57,460.56 L611.07,462.98 L611.57,472.12 L612.07,466.78 L612.57,466.57 L613.07,463.32 L613.57,461.08 L614.07,459.55 L614.57,463.82 L615.07,468.49 L615.57,463.46 L616.07,466.78 L616.57,462.63 L617.07,464.06 L617.57,465.08 L618.07,474.52 L618.57,464.12 L619.07,460.30 L619.57,467.06 L620.07,463.59 L620.57,465.64 L621.07,460.94 L621.57,466.91 L622.07,461.04 L622.57,465.03 L623.07,462.11 L623.57,460.83 L624.07,465.72 L624.57,465.07 L625.07,456.65 L625.57,466.11 L626.07,466.47 L626.57,464.17 L627.07,464.75 L627.57,464.51 L628.07,464.57 L628.57,462.18 L629.07,467.29 L629.57,468.01 L630.07,460.33 L630.57,463.66 L631.07,460.02 L631.57,461.70 L632.07,466.92 L632.57,463.47 L633.07,464.13 L633.57,461.98 L634.07,471.97 L634.57,467.61 L635.07,464.75 L635.57,464.05 L636.07,469.71 L636.57,467.71 L637.07,464.37 L637.57,462.61 L638.07,459.09 L638.57,468.20 L639.07,469.49 L639.57,471.86 L640.07,464.27 L640.57,466.49 L641.07,456.30 L641.57,465.61 L642.07,460.45 L642.57,460.16 L643.07,460.11 L643.57,459.95 L644.07,461.25 L644.57,465.12 L645.07,460.53 L645.57,461.78 L646.07,462.56 L646.57,470.46 L647.07,465.92 L647.57,460.77 L648.07,465.93 L648.57,469.10 L649.07,462.48 L649.57,465.68 L650.07,466.95 L650.57,457.85 L651.07,463.53 L651.57,462.54 L652.07,465.98 L652.57,467.76 L653.07,461.20 L653.57,457.39 L654.07,461.09 L654.57,462.94 L655.07,460.51 L655.57,463.78 L656.07,458.60 L656.57,464.80 L657.07,465.54 L657.57,470.17 L658.07,462.41 L658.57,466.50 L659.07,460.25 L659.57,460.30 L660.07,459.90 L660.57,462.33 L661.07,458.08 L661.57,456.21 L662.07,470.91 L662.57,461.64 L663.07,462.72 L663.57,463.38 L664.07,461.13 L664.57,461.91 L665.07,466.78 L665.57,463.66 L666.07,466.69 L666.57,458.31 L667.07,464.36 L667.57,459.29 L668.07,457.89 L668.57,465.26 L669.07,463.46 L669.57,465.12 L670.07,464.86 L670.57,455.66 L671.07,464.53 L671.57,469.44 L672.07,463.14 L672.57,466.00 L673.00,467.69 L673.0,489.9 Z' fill='#ccffff' fill-opacity='0.55' stroke='none'/>
<path d='M328.9,489.9 L329.23,454.54 L329.73,449.88 L330.23,455.75 L330.73,452.87 L331.23,453.60 L331.73,453.32 L332.23,454.72 L332.73,452.81 L333.23,452.77 L333.73,452.21 L334.23,449.05 L334.73,445.51 L335.23,440.08 L335.73,439.67 L336.23,443.17 L336.73,449.40 L337.23,454.33 L337.73,452.62 L338.23,449.76 L338.73,453.35 L339.23,451.25 L339.73,454.50 L340.23,452.80 L340.73,453.37 L341.23,447.99 L341.73,440.02 L342.23,436.65 L342.73,439.22 L343.23,448.07 L343.73,451.92 L344.23,455.73 L344.73,452.34 L345.23,454.14 L345.73,456.14 L346.23,455.31 L346.73,452.79 L347.23,450.51 L347.73,454.54 L348.23,451.81 L348.73,440.84 L349.23,438.64 L349.73,440.21 L350.23,449.59 L350.73,450.72 L351.23,447.18 L351.73,450.72 L352.23,443.86 L352.73,438.74 L353.23,439.04 L353.73,433.87 L354.23,430.27 L354.73,423.26 L355.23,406.97 L355.73,404.45 L356.23,403.61 L356.73,405.88 L357.23,411.51 L357.73,420.62 L358.23,428.71 L358.73,433.37 L359.23,438.40 L359.73,438.54 L360.23,443.06 L360.73,443.17 L361.23,451.26 L361.73,452.42 L362.23,449.84 L362.73,439.43 L363.23,438.10 L363.73,438.36 L364.23,446.55 L364.73,451.12 L365.23,453.22 L365.73,451.95 L366.23,456.47 L366.73,453.83 L367.23,451.00 L367.73,452.91 L368.23,448.66 L368.73,454.36 L369.23,444.97 L369.73,435.41 L370.23,438.98 L370.73,448.27 L371.23,449.57 L371.73,454.59 L372.23,452.58 L372.73,456.86 L373.23,452.08 L373.73,457.02 L374.23,454.28 L374.73,452.56 L375.23,452.28 L375.73,446.82 L376.23,449.99 L376.73,437.08 L377.23,436.98 L377.73,447.20 L378.23,448.65 L378.73,453.16 L379.23,450.72 L379.73,455.08 L380.23,452.08 L380.73,449.86 L381.23,451.16 L381.73,454.75 L382.23,447.99 L382.73,445.60 L383.23,438.82 L383.73,433.48 L384.23,447.96 L384.73,453.20 L385.23,450.64 L385.73,452.91 L386.23,453.73 L386.73,452.60 L387.23,452.35 L387.73,449.87 L388.23,455.71 L388.73,453.70 L389.23,448.60 L389.73,442.94 L390.23,437.12 L390.73,437.73 L391.23,448.79 L391.73,449.52 L392.23,451.07 L392.73,453.79 L393.23,451.06 L393.73,453.24 L394.23,455.00 L394.73,452.31 L395.23,456.83 L395.73,455.82 L396.23,457.71 L396.73,455.22 L397.23,452.06 L397.73,457.10 L398.23,450.20 L398.73,454.36 L399.23,462.44 L399.73,451.42 L400.23,466.00 L400.73,453.20 L401.23,458.22 L401.73,457.58 L402.23,462.39 L402.73,460.55 L403.23,455.23 L403.73,454.17 L404.23,454.32 L404.73,462.79 L405.23,462.36 L405.73,464.58 L406.23,456.89 L406.73,462.25 L407.23,455.61 L407.73,460.59 L408.23,459.41 L408.73,466.12 L409.23,465.18 L409.73,460.89 L410.23,458.19 L410.73,454.20 L411.23,464.04 L411.73,464.12 L412.23,460.26 L412.73,473.49 L413.23,461.32 L413.73,459.56 L414.23,466.13 L414.73,464.57 L415.23,466.26 L415.73,463.82 L416.23,465.93 L416.73,458.65 L417.23,457.70 L417.73,455.30 L418.23,468.68 L418.73,468.41 L419.23,466.99 L419.73,465.83 L420.23,464.02 L420.73,464.98 L421.23,468.94 L421.73,465.17 L422.23,472.41 L422.73,464.48 L423.23,464.75 L423.73,462.98 L424.23,468.24 L424.73,462.93 L425.23,462.90 L425.73,465.41 L426.23,460.82 L426.73,461.19 L427.23,462.53 L427.73,466.02 L428.23,464.00 L428.73,464.18 L429.23,457.44 L429.73,465.53 L430.23,464.37 L430.73,465.56 L431.23,467.98 L431.73,468.38 L432.23,460.25 L432.73,459.10 L433.23,465.27 L433.73,456.70 L434.23,463.80 L434.73,460.60 L435.23,465.14 L435.73,467.13 L436.23,469.76 L436.73,467.76 L437.23,467.06 L437.73,467.98 L438.23,467.01 L438.73,460.06 L439.23,458.38 L439.73,459.30 L440.23,461.18 L440.73,466.42 L441.23,467.34 L441.73,468.91 L442.23,465.10 L442.73,461.18 L443.23,467.68 L443.73,473.71 L444.23,466.82 L444.73,465.54 L445.23,462.13 L445.73,467.02 L446.23,460.05 L446.73,462.62 L447.23,459.52 L447.73,465.95 L448.23,463.49 L448.73,468.06 L449.23,459.19 L449.73,460.40 L450.23,455.93 L450.73,464.36 L451.23,463.90 L451.73,464.17 L452.23,469.77 L452.73,459.78 L453.23,461.33 L453.73,458.04 L454.23,462.42 L454.73,465.83 L455.23,465.54 L455.73,463.12 L456.23,468.24 L456.73,460.03 L457.23,462.63 L457.73,460.88 L458.23,468.25 L458.73,465.78 L459.23,465.53 L459.73,469.67 L460.23,463.09 L460.73,465.26 L461.23,467.34 L461.73,462.45 L462.23,467.84 L462.73,467.83 L463.23,458.40 L463.73,469.16 L464.23,464.43 L464.73,467.43 L465.23,462.53 L465.73,462.57 L466.23,465.74 L466.73,460.60 L467.23,471.68 L467.73,462.24 L468.23,466.12 L468.73,457.03 L469.23,468.41 L469.73,463.67 L470.23,463.59 L470.73,463.21 L471.23,462.60 L471.73,463.32 L472.23,467.48 L472.73,460.43 L473.23,464.62 L473.73,461.87 L474.23,460.84 L474.73,456.72 L475.23,459.65 L475.73,463.84 L476.23,455.65 L476.73,466.20 L477.23,466.23 L477.73,461.07 L478.23,461.03 L478.73,462.77 L479.23,465.06 L479.73,457.56 L480.23,470.65 L480.73,462.32 L481.23,464.22 L481.73,463.07 L482.23,463.97 L482.73,463.66 L483.23,460.92 L483.73,455.80 L484.23,458.66 L484.73,455.32 L485.23,464.08 L485.73,461.12 L486.23,463.16 L486.73,462.19 L487.23,463.92 L487.73,460.35 L488.23,461.15 L488.73,461.26 L489.23,462.44 L489.73,460.68 L490.23,470.38 L490.73,459.91 L491.23,458.89 L491.73,462.49 L492.23,466.38 L492.73,461.75 L493.23,464.07 L493.73,464.39 L494.23,460.88 L494.73,464.97 L495.23,464.84 L495.73,461.80 L496.23,465.95 L496.73,465.97 L497.23,458.86 L497.73,456.17 L498.23,460.24 L498.73,462.13 L499.23,466.16 L499.73,462.41 L500.23,458.77 L500.73,461.91 L501.23,463.86 L501.73,465.66 L502.23,458.23 L502.73,461.71 L503.23,470.77 L503.73,462.46 L504.23,465.86 L504.73,463.77 L505.23,461.82 L505.73,465.71 L506.23,464.84 L506.73,459.16 L507.23,463.50 L507.73,467.69 L508.23,456.92 L508.73,466.46 L509.23,461.60 L509.73,461.31 L510.23,464.17 L510.73,465.62 L511.23,466.94 L511.73,462.74 L512.23,465.15 L512.73,458.51 L513.23,463.90 L513.73,465.77 L514.23,461.93 L514.73,465.58 L515.23,462.52 L515.73,461.36 L516.23,464.21 L516.73,465.33 L517.23,461.77 L517.73,462.77 L518.23,465.01 L518.73,469.24 L519.23,458.30 L519.73,465.70 L520.23,469.10 L520.73,469.03 L521.23,470.87 L521.73,462.26 L522.23,462.62 L522.73,466.05 L523.23,470.61 L523.73,459.53 L524.23,460.80 L524.73,466.89 L525.23,472.05 L525.73,470.70 L526.23,461.94 L526.73,465.99 L527.23,463.19 L527.73,458.99 L528.23,468.24 L528.73,467.72 L529.23,459.75 L529.73,466.16 L530.23,463.89 L530.73,459.53 L531.23,467.37 L531.73,466.48 L532.23,457.23 L532.73,466.78 L533.23,461.85 L533.73,469.93 L534.23,460.86 L534.73,468.39 L535.23,461.46 L535.73,470.08 L536.23,468.88 L536.73,468.28 L537.23,466.43 L537.73,457.34 L538.23,463.81 L538.73,463.68 L539.23,456.12 L539.73,473.83 L540.23,465.37 L540.73,467.56 L541.23,461.91 L541.73,466.51 L542.23,469.07 L542.73,459.75 L543.23,464.20 L543.73,471.19 L544.23,463.18 L544.73,462.57 L545.23,464.50 L545.73,463.90 L546.23,458.90 L546.73,470.46 L547.23,464.39 L547.73,459.13 L548.23,467.60 L548.73,472.07 L549.23,462.21 L549.73,462.09 L550.23,463.95 L550.73,465.07 L551.23,466.81 L551.73,462.18 L552.23,473.26 L552.73,463.35 L553.23,463.83 L553.73,467.30 L554.23,468.96 L554.73,472.33 L555.23,461.98 L555.73,466.93 L556.23,460.27 L556.73,465.70 L557.23,468.94 L557.73,465.92 L558.23,462.05 L558.73,468.29 L559.23,468.39 L559.73,465.57 L560.23,467.91 L560.73,466.20 L561.23,467.09 L561.73,460.09 L562.23,460.60 L562.73,465.56 L563.23,464.25 L563.73,468.00 L564.23,463.64 L564.73,467.36 L565.23,466.06 L565.73,459.97 L566.23,465.77 L566.73,466.13 L567.23,467.59 L567.73,457.74 L568.23,464.93 L568.73,465.46 L569.23,464.23 L569.73,467.48 L570.23,462.67 L570.73,467.08 L571.23,462.08 L571.73,467.95 L572.23,471.90 L572.73,458.08 L573.23,468.07 L573.73,460.15 L574.23,466.39 L574.73,462.75 L575.23,462.26 L575.73,463.24 L576.23,471.32 L576.73,462.98 L577.23,462.99 L577.73,467.72 L578.23,466.96 L578.73,468.27 L579.23,468.54 L579.73,463.28 L580.23,462.76 L580.73,468.74 L581.23,471.11 L581.73,462.29 L582.23,460.81 L582.73,464.67 L583.23,464.71 L583.73,464.39 L584.23,472.64 L584.73,463.87 L585.23,466.55 L585.73,465.18 L586.23,469.59 L586.73,462.98 L587.23,461.15 L587.73,465.25 L588.23,466.82 L588.73,469.41 L589.23,469.64 L589.73,459.17 L590.23,468.56 L590.73,469.38 L591.23,458.62 L591.73,464.00 L592.23,462.19 L592.73,459.72 L593.23,466.87 L593.73,464.66 L594.23,469.45 L594.73,462.33 L595.23,466.35 L595.73,461.61 L596.23,463.33 L596.73,472.28 L597.23,464.00 L597.73,467.33 L598.23,472.39 L598.73,466.34 L599.23,467.40 L599.73,465.77 L600.23,470.85 L600.73,468.40 L601.23,462.77 L601.73,467.11 L602.23,457.30 L602.73,457.30 L603.23,462.10 L603.73,460.04 L604.23,463.16 L604.73,467.44 L605.23,465.99 L605.73,463.43 L606.23,476.24 L606.73,461.59 L607.23,460.18 L607.73,461.61 L608.23,459.35 L608.73,462.24 L609.23,464.29 L609.73,467.12 L610.23,466.36 L610.73,456.97 L611.23,459.40 L611.73,464.50 L612.23,463.42 L612.73,467.37 L613.23,461.28 L613.73,472.44 L614.23,470.50 L614.73,460.75 L615.23,467.40 L615.73,466.40 L616.23,468.25 L616.73,470.15 L617.23,459.54 L617.73,464.40 L618.23,456.80 L618.73,471.09 L619.23,460.15 L619.73,465.30 L620.23,465.16 L620.73,462.46 L621.23,466.33 L621.73,459.54 L622.23,464.39 L622.73,466.57 L623.23,470.76 L623.73,464.65 L624.23,464.48 L624.73,463.17 L625.23,461.17 L625.73,462.86 L626.23,458.48 L626.73,463.12 L627.23,462.22 L627.73,463.39 L628.23,464.98 L628.73,469.47 L629.23,464.48 L629.73,467.18 L630.23,463.22 L630.73,463.46 L631.23,467.31 L631.73,465.30 L632.23,461.57 L632.73,464.42 L633.23,462.37 L633.73,472.65 L634.23,462.06 L634.73,458.97 L635.23,467.59 L635.73,462.75 L636.23,465.39 L636.73,462.47 L637.23,460.86 L637.73,459.32 L638.23,465.63 L638.73,461.96 L639.23,461.23 L639.73,463.86 L640.23,471.27 L640.73,472.35 L641.23,466.29 L641.73,460.62 L642.23,469.33 L642.73,465.83 L643.23,462.66 L643.73,465.76 L644.23,465.07 L644.73,460.46 L645.23,464.10 L645.73,469.00 L646.23,463.60 L646.73,464.29 L647.23,457.55 L647.73,470.90 L648.23,470.29 L648.73,471.36 L649.23,462.99 L649.73,460.04 L650.23,461.32 L650.73,463.38 L651.23,460.43 L651.73,460.75 L652.23,458.05 L652.73,469.84 L653.23,464.84 L653.73,463.81 L654.23,466.10 L654.73,468.28 L655.23,463.68 L655.73,464.73 L656.23,469.32 L656.73,459.01 L657.23,461.99 L657.73,467.11 L658.23,465.85 L658.73,467.00 L659.23,463.42 L659.73,459.49 L660.23,457.60 L660.73,462.91 L661.23,466.48 L661.73,455.86 L662.23,466.57 L662.73,459.15 L663.23,465.51 L663.73,461.85 L664.23,463.62 L664.73,461.36 L665.23,465.28 L665.73,469.43 L666.23,459.48 L666.73,463.75 L667.23,464.67 L667.73,468.73 L668.23,468.57 L668.73,460.76 L669.23,458.97 L669.73,460.39 L670.23,462.60 L670.73,464.60 L671.23,465.26 L671.73,462.08 L672.23,460.75 L672.73,462.67 L673.00,462.42 L673.0,489.9 Z' fill='#ccffff' fill-opacity='0.55' stroke='none'/>
<rect x='337.4' y='450.8' width='26.9' height='23.5' fill='#808080' fill-opacity='0.32'/>
<g opacity='0.5'><rect x='341.6' y='451.5' width='19.6' height='19.8' rx='3.2' fill='none' stroke='#c0d8d8' stroke-width='1'/><path d='M344.6,457.79999999999995 L349.6,461.4 L344.6,465.0 Z M358.20000000000005,457.79999999999995 L353.20000000000005,461.4 L358.20000000000005,465.0 Z' fill='#c0e0e0'/><line x1='351.40000000000003' x2='351.40000000000003' y1='455.0' y2='468.0' stroke='#c0e0e0' stroke-width='1.2' stroke-dasharray='1.3 1.6'/></g>
</g>
<g fill="#585858">
<rect x="684.3" y="537.3" width="1.6" height="1.6" transform="translate(7,0)"/>
<rect x="687.8" y="540.8" width="1.6" height="1.6"/><rect x="691.3" y="540.8" width="1.6" height="1.6"/>
<rect x="684.3" y="544.3" width="1.6" height="1.6"/><rect x="687.8" y="544.3" width="1.6" height="1.6"/><rect x="691.3" y="544.3" width="1.6" height="1.6"/>
</g>
</svg>
<div id="txt">
<span class='t' style='left:25.96px;top:8.23px;font-size:10.6px;font-weight:normal;color:#000;transform-origin:0 50%;transform:scaleX(0.9314);'>RadexLight 1.16.4</span>
<span class='t' style='left:7.14px;top:67.81px;font-size:14.4px;font-weight:normal;color:#c8c8c8;transform-origin:0 50%;transform:scaleX(1.0282);'>Подключенное устройство</span>
<span class='t' style='left:7.14px;top:134.81px;font-size:14.4px;font-weight:normal;color:#c8c8c8;transform-origin:0 50%;transform:scaleX(1.0027);'>Значение</span>
<span class='t' style='left:7.14px;top:227.21px;font-size:14.4px;font-weight:normal;color:#c8c8c8;transform-origin:0 50%;transform:scaleX(0.9891);'>Пульсация</span>
<span class='t' style='left:7.14px;top:358.81px;font-size:14.4px;font-weight:normal;color:#c8c8c8;transform-origin:0 50%;transform:scaleX(1.0260);'>Комментарии</span>
<span class='t' style='left:27.87px;top:100.66px;font-size:12.1px;font-weight:bold;color:#fff;transform-origin:0 50%;transform:scaleX(1.0088);'>RADEX LUPIN: 2019-06-18 2969</span>
<span class='t' style='left:28.12px;top:168.70px;font-size:13px;font-weight:bold;color:#fff;transform-origin:0 50%;transform:scaleX(1.0447);'>Освещенность: 173 лк</span>
<span class='t' style='left:113.72px;top:261.40px;font-size:13px;font-weight:bold;color:#fff;transform-origin:0 50%;transform:scaleX(1.0556);'>8.9 %</span>
<span class='t' style='left:50.22px;top:325.60px;font-size:13px;font-weight:bold;color:#fff;transform-origin:0 50%;transform:scaleX(1.0344);'>Частоты: 240 [Гц]</span>
<span class='t' style='left:6.22px;top:252.00px;font-size:13px;font-weight:bold;color:#fff;transform-origin:0 50%;transform:scaleX(1.1969);'>К</span>
<span class='t' style='left:15.57px;top:256.71px;font-size:10.5px;font-weight:bold;color:#fff;transform-origin:0 50%;transform:scaleX(1.0404);'>п</span>
<span class='t' style='left:22.42px;top:252.00px;font-size:13px;font-weight:bold;color:#fff;transform-origin:0 50%;transform:scaleX(1.0000);'>:</span>
<span class='t' style='left:435.76px;top:72.69px;font-size:11px;font-weight:normal;color:#fff;transform-origin:50% 50%;transform:scaleX(1.0159);'>Осциллограмма</span>
<span class='t' style='left:300.14px;top:86.29px;font-size:11px;font-weight:normal;color:#fff;transform-origin:100% 50%;transform:scaleX(1.0786);'>190,77</span>
<span class='t' style='left:300.14px;top:110.56px;font-size:11px;font-weight:normal;color:#fff;transform-origin:100% 50%;transform:scaleX(1.0786);'>185,32</span>
<span class='t' style='left:300.14px;top:134.83px;font-size:11px;font-weight:normal;color:#fff;transform-origin:100% 50%;transform:scaleX(1.0786);'>179,87</span>
<span class='t' style='left:300.14px;top:159.10px;font-size:11px;font-weight:normal;color:#fff;transform-origin:100% 50%;transform:scaleX(1.0786);'>174,41</span>
<span class='t' style='left:300.14px;top:183.37px;font-size:11px;font-weight:normal;color:#fff;transform-origin:100% 50%;transform:scaleX(1.0786);'>168,96</span>
<span class='t' style='left:300.14px;top:207.64px;font-size:11px;font-weight:normal;color:#fff;transform-origin:100% 50%;transform:scaleX(1.0786);'>163,51</span>
<span class='t' style='left:300.14px;top:231.91px;font-size:11px;font-weight:normal;color:#fff;transform-origin:100% 50%;transform:scaleX(1.0786);'>158,06</span>
<span class='t' style='left:338.14px;top:261.49px;font-size:11px;font-weight:normal;color:#fff;transform-origin:50% 50%;transform:scaleX(1.0776);'>0</span>
<span class='t' style='left:371.39px;top:261.49px;font-size:11px;font-weight:normal;color:#fff;transform-origin:50% 50%;transform:scaleX(1.0776);'>2</span>
<span class='t' style='left:404.64px;top:261.49px;font-size:11px;font-weight:normal;color:#fff;transform-origin:50% 50%;transform:scaleX(1.0776);'>4</span>
<span class='t' style='left:437.89px;top:261.49px;font-size:11px;font-weight:normal;color:#fff;transform-origin:50% 50%;transform:scaleX(1.0776);'>6</span>
<span class='t' style='left:471.14px;top:261.49px;font-size:11px;font-weight:normal;color:#fff;transform-origin:50% 50%;transform:scaleX(1.0776);'>8</span>
<span class='t' style='left:502.12px;top:261.49px;font-size:11px;font-weight:normal;color:#fff;transform-origin:50% 50%;transform:scaleX(1.0776);'>10</span>
<span class='t' style='left:535.38px;top:261.49px;font-size:11px;font-weight:normal;color:#fff;transform-origin:50% 50%;transform:scaleX(1.0776);'>12</span>
<span class='t' style='left:568.62px;top:261.49px;font-size:11px;font-weight:normal;color:#fff;transform-origin:50% 50%;transform:scaleX(1.0776);'>14</span>
<span class='t' style='left:601.88px;top:261.49px;font-size:11px;font-weight:normal;color:#fff;transform-origin:50% 50%;transform:scaleX(1.0776);'>16</span>
<span class='t' style='left:635.12px;top:261.49px;font-size:11px;font-weight:normal;color:#fff;transform-origin:50% 50%;transform:scaleX(1.0776);'>18</span>
<span class='t' style='left:668.38px;top:261.49px;font-size:11px;font-weight:normal;color:#fff;transform-origin:50% 50%;transform:scaleX(1.0776);'>20</span>
<span class='t' style='left:477.34px;top:272.59px;font-size:11px;font-weight:normal;color:#fff;transform-origin:0 50%;transform:scaleX(1.0537);'>Время [мс]</span>
<span class='t' style='left:234.86px;top:164.90px;font-size:11px;font-weight:normal;color:#fff;transform-origin:50% 50%;transform:rotate(-90deg) scaleX(1.0827);'>Освещенность [лк]</span>
<span class='t' style='left:459.44px;top:309.99px;font-size:11px;font-weight:normal;color:#fff;transform-origin:50% 50%;transform:scaleX(1.0519);'>Спектр</span>
<span class='t' style='left:314.48px;top:321.89px;font-size:11px;font-weight:normal;color:#fff;transform-origin:100% 50%;transform:scaleX(1.0776);'>0</span>
<span class='t' style='left:304.69px;top:338.22px;font-size:11px;font-weight:normal;color:#fff;transform-origin:100% 50%;transform:scaleX(1.0813);'>-10</span>
<span class='t' style='left:304.69px;top:354.55px;font-size:11px;font-weight:normal;color:#fff;transform-origin:100% 50%;transform:scaleX(1.0813);'>-20</span>
<span class='t' style='left:304.69px;top:370.88px;font-size:11px;font-weight:normal;color:#fff;transform-origin:100% 50%;transform:scaleX(1.0813);'>-30</span>
<span class='t' style='left:304.69px;top:387.21px;font-size:11px;font-weight:normal;color:#fff;transform-origin:100% 50%;transform:scaleX(1.0813);'>-40</span>
<span class='t' style='left:304.69px;top:403.54px;font-size:11px;font-weight:normal;color:#fff;transform-origin:100% 50%;transform:scaleX(1.0813);'>-50</span>
<span class='t' style='left:304.69px;top:419.87px;font-size:11px;font-weight:normal;color:#fff;transform-origin:100% 50%;transform:scaleX(1.0813);'>-60</span>
<span class='t' style='left:304.69px;top:436.20px;font-size:11px;font-weight:normal;color:#fff;transform-origin:100% 50%;transform:scaleX(1.0813);'>-70</span>
<span class='t' style='left:304.69px;top:452.53px;font-size:11px;font-weight:normal;color:#fff;transform-origin:100% 50%;transform:scaleX(1.0813);'>-80</span>
<span class='t' style='left:304.69px;top:468.86px;font-size:11px;font-weight:normal;color:#fff;transform-origin:100% 50%;transform:scaleX(1.0813);'>-90</span>
<span class='t' style='left:298.57px;top:485.19px;font-size:11px;font-weight:normal;color:#fff;transform-origin:100% 50%;transform:scaleX(1.0349);'>-100</span>
<span class='t' style='left:325.24px;top:499.19px;font-size:11px;font-weight:normal;color:#fff;transform-origin:50% 50%;transform:scaleX(1.0776);'>0</span>
<span class='t' style='left:376.94px;top:499.19px;font-size:11px;font-weight:normal;color:#fff;transform-origin:50% 50%;transform:scaleX(1.0839);'>500</span>
<span class='t' style='left:431.70px;top:499.19px;font-size:11px;font-weight:normal;color:#fff;transform-origin:50% 50%;transform:scaleX(1.0823);'>1000</span>
<span class='t' style='left:489.52px;top:499.19px;font-size:11px;font-weight:normal;color:#fff;transform-origin:50% 50%;transform:scaleX(1.0823);'>1500</span>
<span class='t' style='left:546.94px;top:499.19px;font-size:11px;font-weight:normal;color:#fff;transform-origin:50% 50%;transform:scaleX(1.0823);'>2000</span>
<span class='t' style='left:604.36px;top:499.19px;font-size:11px;font-weight:normal;color:#fff;transform-origin:50% 50%;transform:scaleX(1.0823);'>2500</span>
<span class='t' style='left:661.78px;top:499.19px;font-size:11px;font-weight:normal;color:#fff;transform-origin:50% 50%;transform:scaleX(1.0823);'>3000</span>
<span class='t' style='left:466.34px;top:510.29px;font-size:11px;font-weight:normal;color:#fff;transform-origin:0 50%;transform:scaleX(1.0787);'>Частота [Гц]</span>
<span class='t' style='left:245.77px;top:403.50px;font-size:11px;font-weight:normal;color:#fff;transform-origin:50% 50%;transform:rotate(-90deg) scaleX(1.0435);'>Амплитуда [дБ]</span>
<span class='t' style='left:491.18px;top:94.26px;font-size:10.8px;font-weight:normal;color:#000;transform-origin:50% 50%;transform:scaleX(1.0142);'>188,86</span>
<span class='t' style='left:491.18px;top:136.26px;font-size:10.8px;font-weight:normal;color:#000;transform-origin:50% 50%;transform:scaleX(1.0142);'>179,39</span>
<span class='t' style='left:491.18px;top:236.46px;font-size:10.8px;font-weight:normal;color:#000;transform-origin:50% 50%;transform:scaleX(1.0142);'>156,91</span>
<span class='t' style='left:227.25px;top:33.26px;font-size:8.2px;font-weight:bold;color:#f4f4f4;transform-origin:50% 50%;transform:scaleX(1.0146);'>12.34</span>
<span class='t' style='left:677.02px;top:30.17px;font-size:26.5px;font-weight:normal;color:#fff;transform-origin:50% 50%;transform:scaleX(1.0000);'>?</span>
</div>
</div>
</body></html>
